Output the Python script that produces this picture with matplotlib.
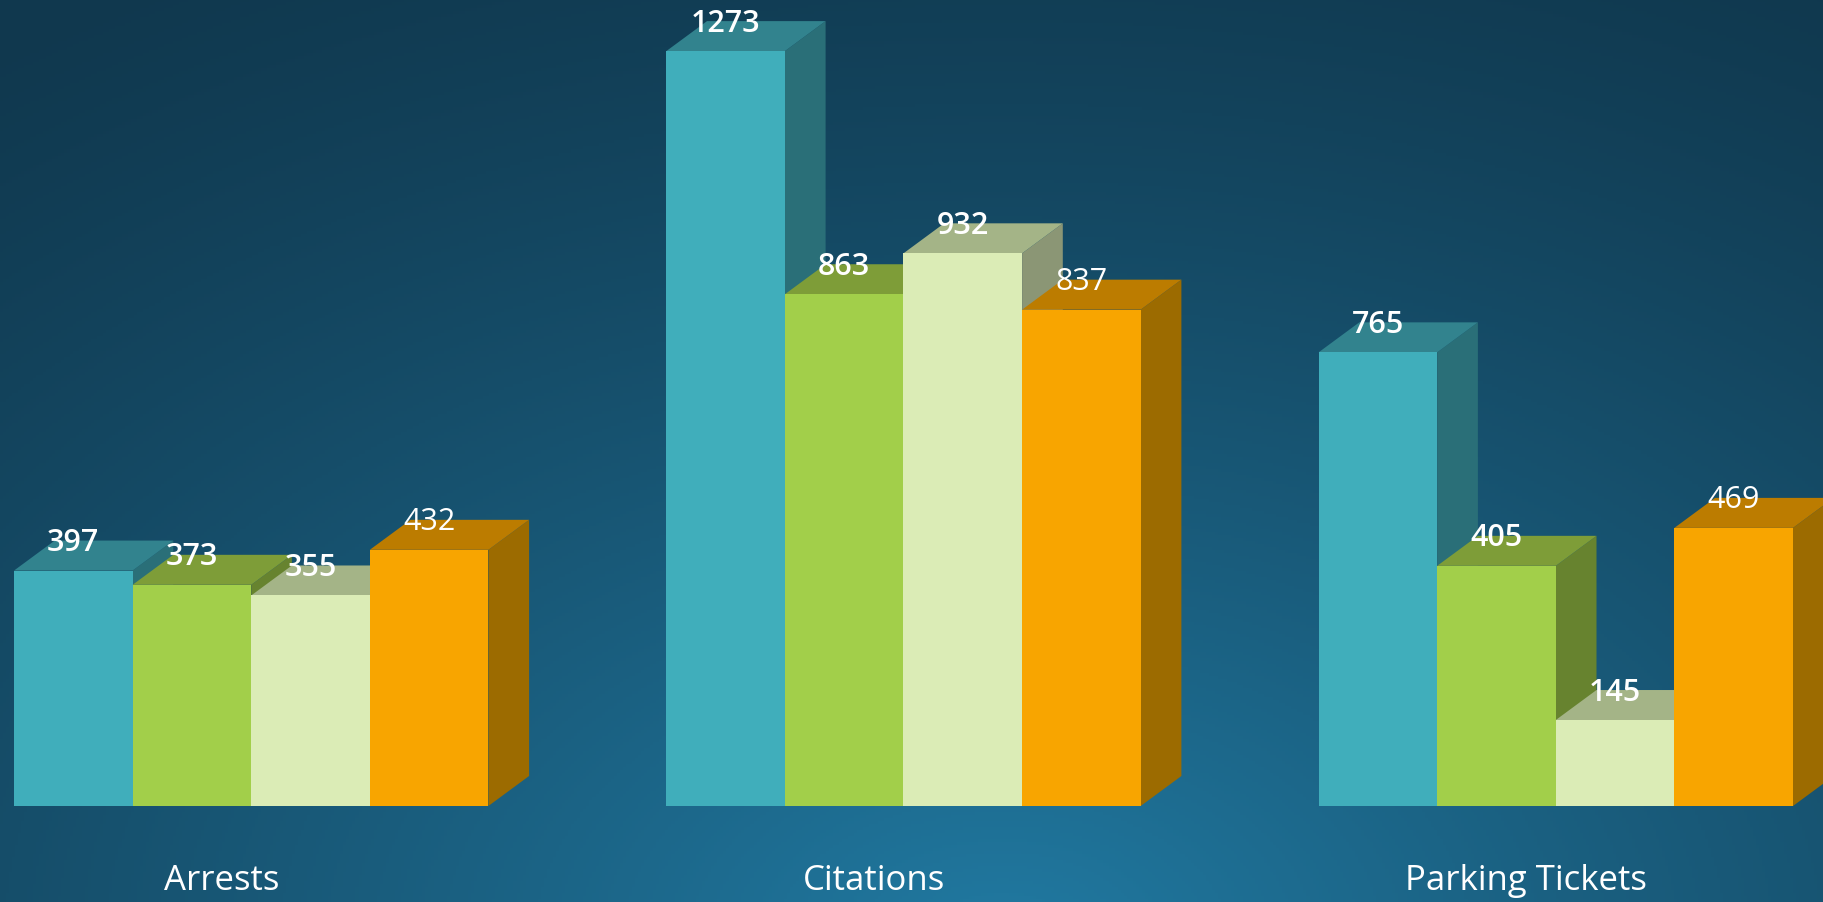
import numpy as np
import matplotlib
matplotlib.use("Agg")
import matplotlib.pyplot as plt
from matplotlib.patches import Polygon

categories = ["Arrests", "Citations", "Parking Tickets"]
series_a = [397, 1273, 765]   # teal
series_b = [373, 863, 405]    # green
series_c = [355, 932, 145]    # cream
series_d = [432, 837, 469]    # orange

front = ["#40AEBB", "#A2CF4A", "#DBECB6", "#F8A500"]
top = ["#32838E", "#7E9D38", "#A4B487", "#BC7C00"]
side = ["#2A6F78", "#67832F", "#8B9675", "#9C6B00"]
bold = [True, True, True, False]

W, H = 1823, 903
fig = plt.figure(figsize=(W / 100, H / 100), dpi=100)
ax = fig.add_axes([0, 0, 1, 1])

px_per_unit = 118.6            # one bar width in pixels
px_per_val = 0.593             # pixels per data value
x0, base = 14, 807             # left of first bar, baseline (pixels from top)
ax.set_xlim(-x0 / px_per_unit, (W - x0) / px_per_unit)
ax.set_ylim(-(H - base) / px_per_val, base / px_per_val)
ax.axis("off")

# background gradient
yy, xx = np.mgrid[0:1:300j, 0:1:600j]
r = np.sqrt(((xx - 0.55) * 1.3) ** 2 + (yy - 1.05) ** 2)
t = np.clip(1 - r / 1.25, 0, 1)
c0 = np.array([0x10, 0x38, 0x4E]) / 255
c1 = np.array([0x21, 0x7A, 0xA2]) / 255
img = c0 + (c1 - c0) * t[..., None] ** 1.3
xl, yl = ax.get_xlim(), ax.get_ylim()
ax.imshow(img, extent=[xl[0], xl[1], yl[0], yl[1]], origin="upper",
          aspect="auto", zorder=0)

dx = 40.7 / px_per_unit
dy = 30 / px_per_val
gap = 5.5

series = [series_a, series_b, series_c, series_d]
for g, cat in enumerate(categories):
    # left to right: each bar's front hides the side of the bar before it
    for i in range(4):
        v = series[i][g]
        left = g * gap + i
        z = 3 + i
        ax.add_patch(Polygon([(left + 1, 0), (left + 1 + dx, dy), (left + 1 + dx, v + dy), (left + 1, v)],
                             closed=True, fc=side[i], ec="none", zorder=z))
        ax.add_patch(Polygon([(left, v), (left + dx, v + dy), (left + 1 + dx, v + dy), (left + 1, v)],
                             closed=True, fc=top[i], ec="none", zorder=z))
        ax.bar(left, v, width=1, align="edge", color=front[i], zorder=z + 0.5)
        ax.text(left + 0.5, v + dy * 0.95, str(v), ha="center", va="center",
                color="white", fontsize=22, family="Open Sans",
                fontweight="semibold" if bold[i] else "normal", zorder=20)
    ax.text(g * gap + 2 - 0.25, -125, cat, ha="center", va="center",
            color="white", fontsize=25, family="Open Sans", zorder=20)

fig.savefig("out.png", dpi=100)
